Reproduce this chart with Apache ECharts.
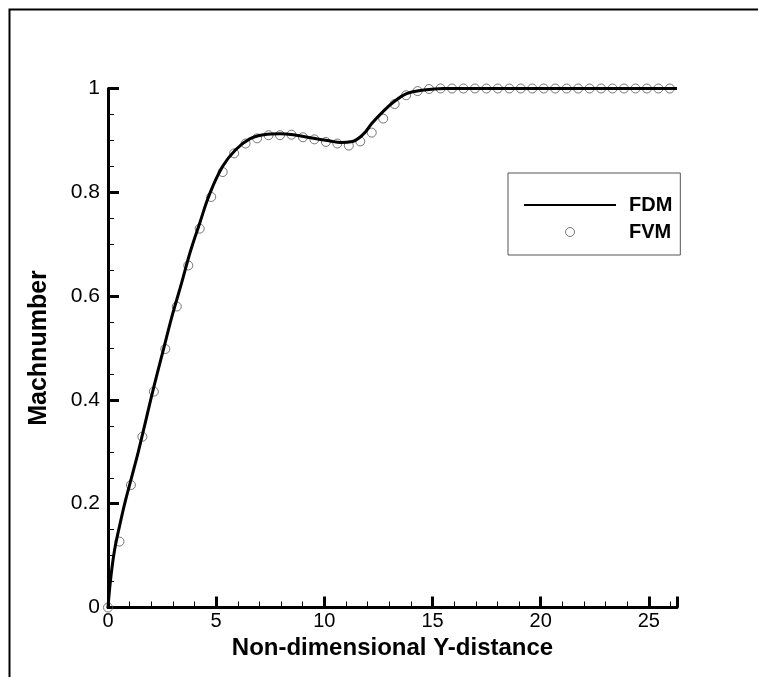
<!DOCTYPE html>
<html>
<head>
<meta charset="utf-8">
<script src="https://cdn.jsdelivr.net/npm/echarts@6/dist/echarts.min.js"></script>
<style>
html,body{margin:0;padding:0;background:#fff;}
#chart{width:758px;height:677px;}
</style>
</head>
<body>
<div id="chart"></div>
<script>
// FDM solution (solid line)
const fdmX = [0, 0.05, 0.15, 0.3, 0.55, 0.8, 1.1, 1.4, 1.7, 2.0, 2.3, 2.6, 2.95, 3.4, 3.8, 4.25, 4.7, 5.3, 5.9, 6.55, 7.2, 7.95, 8.7, 9.5, 10.25, 10.75, 11.3, 11.8, 12.2, 12.7, 13.2, 13.8, 14.6, 15.5, 18, 21, 24, 26.3];
const fdmY = [0, 0.025, 0.065, 0.11, 0.16, 0.205, 0.252, 0.3, 0.352, 0.405, 0.455, 0.503, 0.56, 0.625, 0.685, 0.742, 0.797, 0.85, 0.882, 0.903, 0.911, 0.913, 0.91, 0.904, 0.899, 0.896, 0.898, 0.912, 0.933, 0.955, 0.974, 0.99, 0.997, 1.0, 1.0, 1.0, 1.0, 1.0];
// FVM solution (open circles)
const fvmX = [0, 0.53, 1.06, 1.59, 2.12, 2.65, 3.18, 3.71, 4.24, 4.77, 5.3, 5.83, 6.36, 6.89, 7.42, 7.95, 8.48, 9.01, 9.54, 10.07, 10.6, 11.13, 11.66, 12.19, 12.72, 13.25, 13.78, 14.31, 14.84, 15.37, 15.9, 16.43, 16.96, 17.49, 18.02, 18.55, 19.08, 19.61, 20.14, 20.67, 21.2, 21.73, 22.26, 22.79, 23.32, 23.85, 24.38, 24.91, 25.44, 25.97];
const fvmY = [0, 0.127, 0.236, 0.329, 0.416, 0.498, 0.58, 0.659, 0.73, 0.791, 0.839, 0.875, 0.894, 0.904, 0.91, 0.91, 0.911, 0.906, 0.902, 0.897, 0.894, 0.89, 0.898, 0.915, 0.942, 0.97, 0.987, 0.995, 0.999, 1.0, 1.0, 1.0, 1.0, 1.0, 1.0, 1.0, 1.0, 1.0, 1.0, 1.0, 1.0, 1.0, 1.0, 1.0, 1.0, 1.0, 1.0, 1.0, 1.0, 1.0];
const seriesNames = ['FDM', 'FVM'];
const xTitle = 'Non-dimensional Y-distance';
const yTitle = 'Machnumber';

const FONT = '"Liberation Sans", Arial, Helvetica, sans-serif';
const chart = echarts.init(document.getElementById('chart'), null, {renderer: 'canvas'});

const axisCommon = {
  axisLine: {show: true, onZero: false, lineStyle: {color: '#000', width: 3}},
  axisTick: {show: true, inside: true, length: 11, lineStyle: {color: '#000', width: 3}},
  minorTick: {show: true, length: 6, lineStyle: {color: '#000', width: 1}},
  splitLine: {show: false},
  minorSplitLine: {show: false},
  axisLabel: {color: '#000', fontSize: 20, fontFamily: FONT, margin: 4},
  nameLocation: 'middle',
  nameTextStyle: {color: '#000', fontSize: 24, fontWeight: 'bold', fontFamily: FONT}
};

chart.setOption({
  animation: false,
  backgroundColor: '#fff',
  graphic: [{
    type: 'rect', left: 7, top: 7, shape: {width: 800, height: 720},
    style: {fill: 'none', stroke: '#000', lineWidth: 2}, silent: true, z: -1
  }],
  grid: {left: 108, right: 81, top: 88.5, bottom: 69.5, containLabel: false},
  xAxis: Object.assign({}, axisCommon, {
    type: 'value', min: 0, max: 26.3, interval: 5,
    minorTick: Object.assign({}, axisCommon.minorTick, {splitNumber: 5}),
    name: xTitle, nameGap: 26,
    axisLabel: Object.assign({}, axisCommon.axisLabel, {showMaxLabel: false})
  }),
  yAxis: Object.assign({}, axisCommon, {
    type: 'value', min: 0, max: 1, interval: 0.2,
    minorTick: Object.assign({}, axisCommon.minorTick, {splitNumber: 4}),
    name: yTitle, nameGap: 56,
    nameTextStyle: Object.assign({}, axisCommon.nameTextStyle, {fontSize: 25}),
    axisLabel: Object.assign({}, axisCommon.axisLabel, {fontSize: 21, margin: 8, formatter: v => String(Math.round(v*10)/10)})
  }),
  legend: {
    orient: 'vertical', left: 508, top: 173,
    data: [
      {name: seriesNames[0], itemStyle: {opacity: 0}},
      {name: seriesNames[1]}
    ],
    backgroundColor: '#fff', borderColor: '#555', borderWidth: 1,
    padding: [22, 8, 13, 15], itemGap: 7,
    itemWidth: 92, itemHeight: 9,
    itemStyle: {borderWidth: 1},
    textStyle: {color: '#000', fontSize: 20, fontWeight: 'bold', fontFamily: FONT, padding: [0, 0, 0, 8]}
  },
  series: [{
    name: seriesNames[0], type: 'line',
    data: fdmX.map((x, i) => [x, fdmY[i]]),
    symbol: 'none', smooth: 0.4,
    lineStyle: {color: '#000', width: 3}, itemStyle: {color: '#000'}, z: 3
  }, {
    name: seriesNames[1], type: 'scatter',
    data: fvmX.map((x, i) => [x, fvmY[i]]),
    symbol: 'circle', symbolSize: 9,
    itemStyle: {color: 'rgba(255,255,255,0)', borderColor: '#555', borderWidth: 1}, z: 2
  }]
});
</script>
</body>
</html>
